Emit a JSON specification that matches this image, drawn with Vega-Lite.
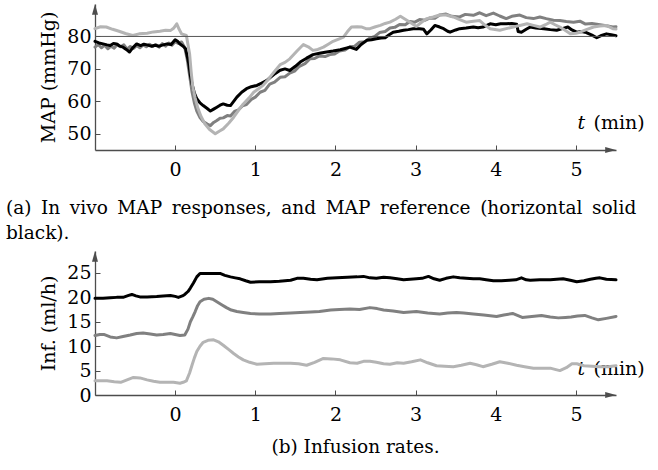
{
  "$schema": "https://vega.github.io/schema/vega-lite/v6.json",
  "padding": {"left": 6, "top": 4, "right": 0, "bottom": 0},
  "spacing": 8,
  "config": {
    "view": {"stroke": null},
    "font": "DejaVu Serif",
    "axis": {
      "grid": false,
      "domain": true,
      "domainColor": "#4d4d4d",
      "domainWidth": 1.3,
      "tickColor": "#4d4d4d",
      "tickWidth": 1,
      "tickSize": -5,
      "labelOverlap": false,
      "labelFont": "DejaVu Serif",
      "labelFontSize": 19,
      "labelColor": "#000",
      "titleFont": "DejaVu Serif",
      "titleFontSize": 19,
      "titleFontWeight": "normal",
      "titleColor": "#000"
    }
  },
  "datasets": {
    "map": [
      {"t": -1.0, "v": 76.7, "s": "s1"}, {"t": -0.96, "v": 77.5, "s": "s1"}, {"t": -0.92, "v": 76.5, "s": "s1"}, {"t": -0.88, "v": 77.3, "s": "s1"}, {"t": -0.84, "v": 76.2, "s": "s1"}, {"t": -0.8, "v": 77.0, "s": "s1"}, {"t": -0.76, "v": 76.4, "s": "s1"}, {"t": -0.72, "v": 77.6, "s": "s1"}, {"t": -0.68, "v": 76.8, "s": "s1"}, {"t": -0.64, "v": 77.4, "s": "s1"}, {"t": -0.6, "v": 76.1, "s": "s1"}, {"t": -0.56, "v": 76.9, "s": "s1"}, {"t": -0.52, "v": 76.3, "s": "s1"}, {"t": -0.48, "v": 77.2, "s": "s1"}, {"t": -0.44, "v": 76.5, "s": "s1"}, {"t": -0.4, "v": 77.4, "s": "s1"}, {"t": -0.36, "v": 76.8, "s": "s1"}, {"t": -0.32, "v": 77.6, "s": "s1"}, {"t": -0.28, "v": 76.9, "s": "s1"}, {"t": -0.24, "v": 77.5, "s": "s1"}, {"t": -0.2, "v": 76.7, "s": "s1"}, {"t": -0.16, "v": 77.8, "s": "s1"}, {"t": -0.12, "v": 77.0, "s": "s1"}, {"t": -0.08, "v": 78.0, "s": "s1"}, {"t": -0.04, "v": 77.3, "s": "s1"}, {"t": 0.0, "v": 78.4, "s": "s1"}, {"t": 0.04, "v": 77.8, "s": "s1"}, {"t": 0.08, "v": 78.3, "s": "s1"}, {"t": 0.12, "v": 76.5, "s": "s1"}, {"t": 0.15, "v": 73.0, "s": "s1"}, {"t": 0.18, "v": 68.0, "s": "s1"}, {"t": 0.21, "v": 63.0, "s": "s1"}, {"t": 0.24, "v": 59.5, "s": "s1"}, {"t": 0.27, "v": 57.0, "s": "s1"}, {"t": 0.31, "v": 55.0, "s": "s1"}, {"t": 0.35, "v": 53.8, "s": "s1"}, {"t": 0.4, "v": 53.0, "s": "s1"}, {"t": 0.44, "v": 52.5, "s": "s1"}, {"t": 0.48, "v": 53.5, "s": "s1"}, {"t": 0.52, "v": 54.1, "s": "s1"}, {"t": 0.56, "v": 54.8, "s": "s1"}, {"t": 0.6, "v": 54.9, "s": "s1"}, {"t": 0.65, "v": 55.6, "s": "s1"}, {"t": 0.69, "v": 55.5, "s": "s1"}, {"t": 0.74, "v": 56.9, "s": "s1"}, {"t": 0.79, "v": 57.4, "s": "s1"}, {"t": 0.84, "v": 58.6, "s": "s1"}, {"t": 0.89, "v": 59.0, "s": "s1"}, {"t": 0.95, "v": 60.6, "s": "s1"}, {"t": 1.0, "v": 61.3, "s": "s1"}, {"t": 1.06, "v": 62.8, "s": "s1"}, {"t": 1.12, "v": 63.4, "s": "s1"}, {"t": 1.18, "v": 65.3, "s": "s1"}, {"t": 1.24, "v": 65.9, "s": "s1"}, {"t": 1.31, "v": 67.4, "s": "s1"}, {"t": 1.37, "v": 67.6, "s": "s1"}, {"t": 1.43, "v": 68.7, "s": "s1"}, {"t": 1.49, "v": 69.3, "s": "s1"}, {"t": 1.55, "v": 70.8, "s": "s1"}, {"t": 1.62, "v": 71.6, "s": "s1"}, {"t": 1.68, "v": 73.1, "s": "s1"}, {"t": 1.74, "v": 73.2, "s": "s1"}, {"t": 1.8, "v": 74.0, "s": "s1"}, {"t": 1.87, "v": 73.8, "s": "s1"}, {"t": 1.93, "v": 74.4, "s": "s1"}, {"t": 1.99, "v": 74.6, "s": "s1"}, {"t": 2.05, "v": 75.5, "s": "s1"}, {"t": 2.12, "v": 75.8, "s": "s1"}, {"t": 2.18, "v": 76.8, "s": "s1"}, {"t": 2.24, "v": 77.0, "s": "s1"}, {"t": 2.3, "v": 78.2, "s": "s1"}, {"t": 2.37, "v": 78.4, "s": "s1"}, {"t": 2.43, "v": 79.5, "s": "s1"}, {"t": 2.49, "v": 80.0, "s": "s1"}, {"t": 2.55, "v": 81.2, "s": "s1"}, {"t": 2.62, "v": 81.5, "s": "s1"}, {"t": 2.68, "v": 82.6, "s": "s1"}, {"t": 2.74, "v": 82.8, "s": "s1"}, {"t": 2.8, "v": 83.7, "s": "s1"}, {"t": 2.87, "v": 83.6, "s": "s1"}, {"t": 2.93, "v": 84.6, "s": "s1"}, {"t": 2.99, "v": 84.4, "s": "s1"}, {"t": 3.05, "v": 85.2, "s": "s1"}, {"t": 3.12, "v": 85.0, "s": "s1"}, {"t": 3.18, "v": 85.7, "s": "s1"}, {"t": 3.24, "v": 85.6, "s": "s1"}, {"t": 3.3, "v": 86.6, "s": "s1"}, {"t": 3.38, "v": 86.9, "s": "s1"}, {"t": 3.45, "v": 86.2, "s": "s1"}, {"t": 3.55, "v": 86.0, "s": "s1"}, {"t": 3.62, "v": 86.8, "s": "s1"}, {"t": 3.72, "v": 86.5, "s": "s1"}, {"t": 3.8, "v": 87.3, "s": "s1"}, {"t": 3.88, "v": 86.4, "s": "s1"}, {"t": 3.97, "v": 87.2, "s": "s1"}, {"t": 4.05, "v": 86.3, "s": "s1"}, {"t": 4.13, "v": 85.5, "s": "s1"}, {"t": 4.2, "v": 86.2, "s": "s1"}, {"t": 4.3, "v": 86.6, "s": "s1"}, {"t": 4.38, "v": 85.8, "s": "s1"}, {"t": 4.47, "v": 85.5, "s": "s1"}, {"t": 4.55, "v": 86.0, "s": "s1"}, {"t": 4.63, "v": 85.5, "s": "s1"}, {"t": 4.72, "v": 85.0, "s": "s1"}, {"t": 4.8, "v": 84.9, "s": "s1"}, {"t": 4.88, "v": 84.6, "s": "s1"}, {"t": 4.97, "v": 84.4, "s": "s1"}, {"t": 5.05, "v": 84.7, "s": "s1"}, {"t": 5.12, "v": 83.8, "s": "s1"}, {"t": 5.2, "v": 84.0, "s": "s1"}, {"t": 5.3, "v": 83.6, "s": "s1"}, {"t": 5.38, "v": 83.3, "s": "s1"}, {"t": 5.46, "v": 82.9, "s": "s1"}, {"t": 5.5, "v": 83.0, "s": "s1"},

      {"t": -1.0, "v": 78.5, "s": "s2"}, {"t": -0.95, "v": 78.0, "s": "s2"}, {"t": -0.9, "v": 77.7, "s": "s2"}, {"t": -0.85, "v": 77.4, "s": "s2"}, {"t": -0.81, "v": 77.2, "s": "s2"}, {"t": -0.77, "v": 77.8, "s": "s2"}, {"t": -0.73, "v": 77.7, "s": "s2"}, {"t": -0.69, "v": 77.0, "s": "s2"}, {"t": -0.65, "v": 76.7, "s": "s2"}, {"t": -0.61, "v": 76.0, "s": "s2"}, {"t": -0.57, "v": 75.2, "s": "s2"}, {"t": -0.53, "v": 76.5, "s": "s2"}, {"t": -0.48, "v": 77.7, "s": "s2"}, {"t": -0.43, "v": 77.2, "s": "s2"}, {"t": -0.39, "v": 77.6, "s": "s2"}, {"t": -0.35, "v": 77.4, "s": "s2"}, {"t": -0.3, "v": 77.0, "s": "s2"}, {"t": -0.25, "v": 77.3, "s": "s2"}, {"t": -0.2, "v": 77.0, "s": "s2"}, {"t": -0.15, "v": 77.4, "s": "s2"}, {"t": -0.1, "v": 77.7, "s": "s2"}, {"t": -0.05, "v": 77.5, "s": "s2"}, {"t": 0.0, "v": 79.0, "s": "s2"}, {"t": 0.03, "v": 78.5, "s": "s2"}, {"t": 0.06, "v": 77.7, "s": "s2"}, {"t": 0.1, "v": 77.0, "s": "s2"}, {"t": 0.13, "v": 76.2, "s": "s2"}, {"t": 0.15, "v": 74.0, "s": "s2"}, {"t": 0.17, "v": 71.6, "s": "s2"}, {"t": 0.19, "v": 68.0, "s": "s2"}, {"t": 0.21, "v": 65.4, "s": "s2"}, {"t": 0.24, "v": 62.5, "s": "s2"}, {"t": 0.27, "v": 60.8, "s": "s2"}, {"t": 0.31, "v": 59.5, "s": "s2"}, {"t": 0.35, "v": 58.7, "s": "s2"}, {"t": 0.4, "v": 57.8, "s": "s2"}, {"t": 0.44, "v": 57.0, "s": "s2"}, {"t": 0.48, "v": 57.6, "s": "s2"}, {"t": 0.52, "v": 58.2, "s": "s2"}, {"t": 0.56, "v": 58.8, "s": "s2"}, {"t": 0.6, "v": 59.2, "s": "s2"}, {"t": 0.65, "v": 58.8, "s": "s2"}, {"t": 0.69, "v": 58.7, "s": "s2"}, {"t": 0.73, "v": 60.0, "s": "s2"}, {"t": 0.77, "v": 61.3, "s": "s2"}, {"t": 0.83, "v": 62.8, "s": "s2"}, {"t": 0.89, "v": 63.9, "s": "s2"}, {"t": 0.95, "v": 64.5, "s": "s2"}, {"t": 1.02, "v": 64.9, "s": "s2"}, {"t": 1.08, "v": 65.6, "s": "s2"}, {"t": 1.14, "v": 66.4, "s": "s2"}, {"t": 1.2, "v": 67.6, "s": "s2"}, {"t": 1.25, "v": 68.6, "s": "s2"}, {"t": 1.31, "v": 69.6, "s": "s2"}, {"t": 1.37, "v": 70.0, "s": "s2"}, {"t": 1.43, "v": 69.5, "s": "s2"}, {"t": 1.5, "v": 70.8, "s": "s2"}, {"t": 1.56, "v": 72.1, "s": "s2"}, {"t": 1.64, "v": 73.3, "s": "s2"}, {"t": 1.72, "v": 74.4, "s": "s2"}, {"t": 1.8, "v": 74.8, "s": "s2"}, {"t": 1.89, "v": 75.2, "s": "s2"}, {"t": 1.97, "v": 75.5, "s": "s2"}, {"t": 2.06, "v": 75.9, "s": "s2"}, {"t": 2.12, "v": 76.3, "s": "s2"}, {"t": 2.18, "v": 76.7, "s": "s2"}, {"t": 2.26, "v": 76.0, "s": "s2"}, {"t": 2.32, "v": 77.5, "s": "s2"}, {"t": 2.39, "v": 78.8, "s": "s2"}, {"t": 2.45, "v": 79.0, "s": "s2"}, {"t": 2.51, "v": 79.3, "s": "s2"}, {"t": 2.57, "v": 79.5, "s": "s2"}, {"t": 2.62, "v": 79.6, "s": "s2"}, {"t": 2.67, "v": 80.5, "s": "s2"}, {"t": 2.72, "v": 81.3, "s": "s2"}, {"t": 2.79, "v": 81.6, "s": "s2"}, {"t": 2.85, "v": 81.9, "s": "s2"}, {"t": 2.91, "v": 82.1, "s": "s2"}, {"t": 2.97, "v": 82.4, "s": "s2"}, {"t": 3.05, "v": 82.4, "s": "s2"}, {"t": 3.1, "v": 82.2, "s": "s2"}, {"t": 3.14, "v": 80.8, "s": "s2"}, {"t": 3.19, "v": 82.0, "s": "s2"}, {"t": 3.24, "v": 83.4, "s": "s2"}, {"t": 3.3, "v": 82.9, "s": "s2"}, {"t": 3.35, "v": 82.4, "s": "s2"}, {"t": 3.4, "v": 81.6, "s": "s2"}, {"t": 3.43, "v": 81.3, "s": "s2"}, {"t": 3.5, "v": 82.0, "s": "s2"}, {"t": 3.55, "v": 82.4, "s": "s2"}, {"t": 3.63, "v": 82.6, "s": "s2"}, {"t": 3.72, "v": 82.9, "s": "s2"}, {"t": 3.78, "v": 82.7, "s": "s2"}, {"t": 3.84, "v": 82.9, "s": "s2"}, {"t": 3.93, "v": 83.9, "s": "s2"}, {"t": 4.0, "v": 83.6, "s": "s2"}, {"t": 4.06, "v": 83.9, "s": "s2"}, {"t": 4.13, "v": 83.9, "s": "s2"}, {"t": 4.2, "v": 84.0, "s": "s2"}, {"t": 4.26, "v": 83.8, "s": "s2"}, {"t": 4.28, "v": 81.5, "s": "s2"}, {"t": 4.32, "v": 81.3, "s": "s2"}, {"t": 4.38, "v": 82.2, "s": "s2"}, {"t": 4.43, "v": 82.9, "s": "s2"}, {"t": 4.5, "v": 82.6, "s": "s2"}, {"t": 4.6, "v": 82.4, "s": "s2"}, {"t": 4.68, "v": 82.1, "s": "s2"}, {"t": 4.76, "v": 81.9, "s": "s2"}, {"t": 4.83, "v": 82.4, "s": "s2"}, {"t": 4.9, "v": 82.9, "s": "s2"}, {"t": 4.95, "v": 82.0, "s": "s2"}, {"t": 5.01, "v": 81.3, "s": "s2"}, {"t": 5.07, "v": 81.5, "s": "s2"}, {"t": 5.13, "v": 81.2, "s": "s2"}, {"t": 5.2, "v": 80.4, "s": "s2"}, {"t": 5.26, "v": 79.6, "s": "s2"}, {"t": 5.32, "v": 80.3, "s": "s2"}, {"t": 5.38, "v": 80.8, "s": "s2"}, {"t": 5.44, "v": 80.5, "s": "s2"}, {"t": 5.5, "v": 80.2, "s": "s2"},

      {"t": -1.0, "v": 82.4, "s": "s3"}, {"t": -0.93, "v": 83.0, "s": "s3"}, {"t": -0.86, "v": 82.9, "s": "s3"}, {"t": -0.78, "v": 82.2, "s": "s3"}, {"t": -0.7, "v": 81.6, "s": "s3"}, {"t": -0.62, "v": 80.9, "s": "s3"}, {"t": -0.53, "v": 80.3, "s": "s3"}, {"t": -0.45, "v": 80.8, "s": "s3"}, {"t": -0.35, "v": 81.0, "s": "s3"}, {"t": -0.27, "v": 81.4, "s": "s3"}, {"t": -0.19, "v": 81.6, "s": "s3"}, {"t": -0.12, "v": 81.9, "s": "s3"}, {"t": -0.06, "v": 81.8, "s": "s3"}, {"t": -0.02, "v": 82.5, "s": "s3"}, {"t": 0.02, "v": 83.9, "s": "s3"}, {"t": 0.05, "v": 82.2, "s": "s3"}, {"t": 0.08, "v": 80.8, "s": "s3"}, {"t": 0.14, "v": 80.3, "s": "s3"}, {"t": 0.18, "v": 74.7, "s": "s3"}, {"t": 0.2, "v": 69.0, "s": "s3"}, {"t": 0.22, "v": 64.4, "s": "s3"}, {"t": 0.25, "v": 61.0, "s": "s3"}, {"t": 0.28, "v": 58.2, "s": "s3"}, {"t": 0.32, "v": 55.5, "s": "s3"}, {"t": 0.37, "v": 53.1, "s": "s3"}, {"t": 0.43, "v": 51.3, "s": "s3"}, {"t": 0.5, "v": 50.0, "s": "s3"}, {"t": 0.55, "v": 50.8, "s": "s3"}, {"t": 0.6, "v": 51.5, "s": "s3"}, {"t": 0.67, "v": 53.3, "s": "s3"}, {"t": 0.73, "v": 55.1, "s": "s3"}, {"t": 0.79, "v": 57.2, "s": "s3"}, {"t": 0.85, "v": 59.2, "s": "s3"}, {"t": 0.92, "v": 61.0, "s": "s3"}, {"t": 0.98, "v": 62.8, "s": "s3"}, {"t": 1.04, "v": 63.9, "s": "s3"}, {"t": 1.1, "v": 65.0, "s": "s3"}, {"t": 1.15, "v": 66.4, "s": "s3"}, {"t": 1.2, "v": 68.0, "s": "s3"}, {"t": 1.25, "v": 69.5, "s": "s3"}, {"t": 1.31, "v": 71.3, "s": "s3"}, {"t": 1.37, "v": 72.0, "s": "s3"}, {"t": 1.43, "v": 73.1, "s": "s3"}, {"t": 1.52, "v": 75.5, "s": "s3"}, {"t": 1.6, "v": 77.5, "s": "s3"}, {"t": 1.66, "v": 76.8, "s": "s3"}, {"t": 1.72, "v": 75.7, "s": "s3"}, {"t": 1.78, "v": 76.0, "s": "s3"}, {"t": 1.85, "v": 76.7, "s": "s3"}, {"t": 1.91, "v": 77.6, "s": "s3"}, {"t": 1.97, "v": 78.5, "s": "s3"}, {"t": 2.04, "v": 79.2, "s": "s3"}, {"t": 2.1, "v": 79.8, "s": "s3"}, {"t": 2.15, "v": 81.5, "s": "s3"}, {"t": 2.2, "v": 82.9, "s": "s3"}, {"t": 2.27, "v": 83.0, "s": "s3"}, {"t": 2.33, "v": 82.9, "s": "s3"}, {"t": 2.38, "v": 82.4, "s": "s3"}, {"t": 2.43, "v": 82.4, "s": "s3"}, {"t": 2.5, "v": 83.0, "s": "s3"}, {"t": 2.56, "v": 83.4, "s": "s3"}, {"t": 2.62, "v": 84.0, "s": "s3"}, {"t": 2.68, "v": 84.4, "s": "s3"}, {"t": 2.75, "v": 85.3, "s": "s3"}, {"t": 2.81, "v": 86.2, "s": "s3"}, {"t": 2.87, "v": 85.3, "s": "s3"}, {"t": 2.93, "v": 84.4, "s": "s3"}, {"t": 3.01, "v": 83.1, "s": "s3"}, {"t": 3.07, "v": 84.3, "s": "s3"}, {"t": 3.14, "v": 85.5, "s": "s3"}, {"t": 3.22, "v": 86.0, "s": "s3"}, {"t": 3.3, "v": 86.6, "s": "s3"}, {"t": 3.38, "v": 86.6, "s": "s3"}, {"t": 3.47, "v": 86.0, "s": "s3"}, {"t": 3.55, "v": 85.2, "s": "s3"}, {"t": 3.63, "v": 84.4, "s": "s3"}, {"t": 3.72, "v": 84.7, "s": "s3"}, {"t": 3.8, "v": 84.9, "s": "s3"}, {"t": 3.86, "v": 83.6, "s": "s3"}, {"t": 3.93, "v": 82.4, "s": "s3"}, {"t": 4.05, "v": 81.9, "s": "s3"}, {"t": 4.13, "v": 82.4, "s": "s3"}, {"t": 4.22, "v": 82.9, "s": "s3"}, {"t": 4.3, "v": 83.4, "s": "s3"}, {"t": 4.39, "v": 83.9, "s": "s3"}, {"t": 4.47, "v": 83.4, "s": "s3"}, {"t": 4.55, "v": 82.9, "s": "s3"}, {"t": 4.62, "v": 83.6, "s": "s3"}, {"t": 4.68, "v": 84.4, "s": "s3"}, {"t": 4.74, "v": 83.6, "s": "s3"}, {"t": 4.8, "v": 82.9, "s": "s3"}, {"t": 4.87, "v": 81.8, "s": "s3"}, {"t": 4.93, "v": 80.8, "s": "s3"}, {"t": 5.0, "v": 81.0, "s": "s3"}, {"t": 5.05, "v": 81.3, "s": "s3"}, {"t": 5.13, "v": 82.1, "s": "s3"}, {"t": 5.22, "v": 82.9, "s": "s3"}, {"t": 5.3, "v": 83.2, "s": "s3"}, {"t": 5.38, "v": 83.4, "s": "s3"}, {"t": 5.46, "v": 82.4, "s": "s3"}, {"t": 5.5, "v": 82.3, "s": "s3"}
    ],
    "inf": [
      {"t": -1.0, "v": 12.2, "s": "s1"}, {"t": -0.94, "v": 12.4, "s": "s1"}, {"t": -0.89, "v": 12.4, "s": "s1"}, {"t": -0.81, "v": 11.9, "s": "s1"}, {"t": -0.73, "v": 11.7, "s": "s1"}, {"t": -0.65, "v": 12.0, "s": "s1"}, {"t": -0.56, "v": 12.3, "s": "s1"}, {"t": -0.48, "v": 12.6, "s": "s1"}, {"t": -0.4, "v": 12.7, "s": "s1"}, {"t": -0.31, "v": 12.5, "s": "s1"}, {"t": -0.23, "v": 12.3, "s": "s1"}, {"t": -0.15, "v": 12.4, "s": "s1"}, {"t": -0.06, "v": 12.6, "s": "s1"}, {"t": 0.0, "v": 12.4, "s": "s1"}, {"t": 0.06, "v": 12.2, "s": "s1"}, {"t": 0.12, "v": 12.3, "s": "s1"}, {"t": 0.16, "v": 13.5, "s": "s1"}, {"t": 0.19, "v": 15.0, "s": "s1"}, {"t": 0.22, "v": 16.0, "s": "s1"}, {"t": 0.25, "v": 17.1, "s": "s1"}, {"t": 0.28, "v": 18.3, "s": "s1"}, {"t": 0.31, "v": 19.1, "s": "s1"}, {"t": 0.36, "v": 19.6, "s": "s1"}, {"t": 0.42, "v": 19.8, "s": "s1"}, {"t": 0.47, "v": 19.6, "s": "s1"}, {"t": 0.52, "v": 19.1, "s": "s1"}, {"t": 0.58, "v": 18.5, "s": "s1"}, {"t": 0.64, "v": 17.9, "s": "s1"}, {"t": 0.7, "v": 17.4, "s": "s1"}, {"t": 0.77, "v": 17.1, "s": "s1"}, {"t": 0.85, "v": 16.9, "s": "s1"}, {"t": 0.94, "v": 16.7, "s": "s1"}, {"t": 1.05, "v": 16.6, "s": "s1"}, {"t": 1.19, "v": 16.6, "s": "s1"}, {"t": 1.3, "v": 16.7, "s": "s1"}, {"t": 1.44, "v": 16.8, "s": "s1"}, {"t": 1.56, "v": 16.9, "s": "s1"}, {"t": 1.69, "v": 17.0, "s": "s1"}, {"t": 1.8, "v": 17.1, "s": "s1"}, {"t": 1.94, "v": 17.4, "s": "s1"}, {"t": 2.05, "v": 17.5, "s": "s1"}, {"t": 2.18, "v": 17.6, "s": "s1"}, {"t": 2.3, "v": 17.5, "s": "s1"}, {"t": 2.43, "v": 17.9, "s": "s1"}, {"t": 2.52, "v": 17.7, "s": "s1"}, {"t": 2.6, "v": 17.4, "s": "s1"}, {"t": 2.72, "v": 17.2, "s": "s1"}, {"t": 2.85, "v": 16.9, "s": "s1"}, {"t": 2.93, "v": 17.0, "s": "s1"}, {"t": 3.01, "v": 17.1, "s": "s1"}, {"t": 3.15, "v": 16.8, "s": "s1"}, {"t": 3.3, "v": 16.6, "s": "s1"}, {"t": 3.4, "v": 16.8, "s": "s1"}, {"t": 3.51, "v": 16.9, "s": "s1"}, {"t": 3.6, "v": 16.8, "s": "s1"}, {"t": 3.72, "v": 16.6, "s": "s1"}, {"t": 3.85, "v": 16.4, "s": "s1"}, {"t": 4.01, "v": 16.1, "s": "s1"}, {"t": 4.1, "v": 16.4, "s": "s1"}, {"t": 4.21, "v": 16.7, "s": "s1"}, {"t": 4.27, "v": 16.3, "s": "s1"}, {"t": 4.33, "v": 15.9, "s": "s1"}, {"t": 4.45, "v": 16.1, "s": "s1"}, {"t": 4.57, "v": 16.3, "s": "s1"}, {"t": 4.68, "v": 16.0, "s": "s1"}, {"t": 4.78, "v": 15.8, "s": "s1"}, {"t": 4.87, "v": 15.9, "s": "s1"}, {"t": 4.94, "v": 16.0, "s": "s1"}, {"t": 5.02, "v": 16.2, "s": "s1"}, {"t": 5.11, "v": 16.3, "s": "s1"}, {"t": 5.2, "v": 15.8, "s": "s1"}, {"t": 5.28, "v": 15.4, "s": "s1"}, {"t": 5.38, "v": 15.7, "s": "s1"}, {"t": 5.5, "v": 16.1, "s": "s1"},

      {"t": -1.0, "v": 19.8, "s": "s2"}, {"t": -0.9, "v": 19.8, "s": "s2"}, {"t": -0.81, "v": 19.9, "s": "s2"}, {"t": -0.73, "v": 20.0, "s": "s2"}, {"t": -0.65, "v": 20.0, "s": "s2"}, {"t": -0.58, "v": 20.4, "s": "s2"}, {"t": -0.54, "v": 20.6, "s": "s2"}, {"t": -0.49, "v": 20.3, "s": "s2"}, {"t": -0.44, "v": 20.1, "s": "s2"}, {"t": -0.35, "v": 20.1, "s": "s2"}, {"t": -0.23, "v": 20.2, "s": "s2"}, {"t": -0.15, "v": 20.3, "s": "s2"}, {"t": -0.06, "v": 20.4, "s": "s2"}, {"t": 0.0, "v": 20.2, "s": "s2"}, {"t": 0.04, "v": 20.0, "s": "s2"}, {"t": 0.09, "v": 20.3, "s": "s2"}, {"t": 0.12, "v": 20.6, "s": "s2"}, {"t": 0.16, "v": 21.2, "s": "s2"}, {"t": 0.19, "v": 21.9, "s": "s2"}, {"t": 0.23, "v": 23.0, "s": "s2"}, {"t": 0.27, "v": 24.2, "s": "s2"}, {"t": 0.31, "v": 24.9, "s": "s2"}, {"t": 0.4, "v": 24.9, "s": "s2"}, {"t": 0.5, "v": 24.9, "s": "s2"}, {"t": 0.56, "v": 24.9, "s": "s2"}, {"t": 0.62, "v": 24.5, "s": "s2"}, {"t": 0.69, "v": 24.2, "s": "s2"}, {"t": 0.75, "v": 24.0, "s": "s2"}, {"t": 0.81, "v": 23.8, "s": "s2"}, {"t": 0.88, "v": 23.4, "s": "s2"}, {"t": 0.94, "v": 23.1, "s": "s2"}, {"t": 1.05, "v": 23.2, "s": "s2"}, {"t": 1.19, "v": 23.2, "s": "s2"}, {"t": 1.3, "v": 23.3, "s": "s2"}, {"t": 1.44, "v": 23.5, "s": "s2"}, {"t": 1.52, "v": 23.9, "s": "s2"}, {"t": 1.6, "v": 23.9, "s": "s2"}, {"t": 1.69, "v": 23.7, "s": "s2"}, {"t": 1.77, "v": 23.6, "s": "s2"}, {"t": 1.9, "v": 23.9, "s": "s2"}, {"t": 2.02, "v": 24.0, "s": "s2"}, {"t": 2.15, "v": 24.1, "s": "s2"}, {"t": 2.27, "v": 24.2, "s": "s2"}, {"t": 2.35, "v": 24.3, "s": "s2"}, {"t": 2.43, "v": 24.0, "s": "s2"}, {"t": 2.51, "v": 23.9, "s": "s2"}, {"t": 2.6, "v": 24.1, "s": "s2"}, {"t": 2.68, "v": 24.0, "s": "s2"}, {"t": 2.77, "v": 23.8, "s": "s2"}, {"t": 2.85, "v": 23.6, "s": "s2"}, {"t": 2.93, "v": 23.7, "s": "s2"}, {"t": 3.01, "v": 23.8, "s": "s2"}, {"t": 3.08, "v": 23.9, "s": "s2"}, {"t": 3.16, "v": 24.3, "s": "s2"}, {"t": 3.23, "v": 23.8, "s": "s2"}, {"t": 3.3, "v": 23.5, "s": "s2"}, {"t": 3.38, "v": 23.9, "s": "s2"}, {"t": 3.47, "v": 24.2, "s": "s2"}, {"t": 3.55, "v": 24.0, "s": "s2"}, {"t": 3.63, "v": 23.9, "s": "s2"}, {"t": 3.72, "v": 23.8, "s": "s2"}, {"t": 3.8, "v": 23.8, "s": "s2"}, {"t": 3.88, "v": 23.6, "s": "s2"}, {"t": 3.97, "v": 23.4, "s": "s2"}, {"t": 4.07, "v": 23.4, "s": "s2"}, {"t": 4.17, "v": 23.5, "s": "s2"}, {"t": 4.25, "v": 23.6, "s": "s2"}, {"t": 4.32, "v": 24.0, "s": "s2"}, {"t": 4.38, "v": 23.6, "s": "s2"}, {"t": 4.43, "v": 23.5, "s": "s2"}, {"t": 4.55, "v": 23.6, "s": "s2"}, {"t": 4.68, "v": 23.6, "s": "s2"}, {"t": 4.76, "v": 23.7, "s": "s2"}, {"t": 4.84, "v": 23.8, "s": "s2"}, {"t": 4.93, "v": 23.5, "s": "s2"}, {"t": 5.01, "v": 23.2, "s": "s2"}, {"t": 5.1, "v": 23.4, "s": "s2"}, {"t": 5.18, "v": 23.7, "s": "s2"}, {"t": 5.25, "v": 23.9, "s": "s2"}, {"t": 5.3, "v": 24.0, "s": "s2"}, {"t": 5.38, "v": 23.7, "s": "s2"}, {"t": 5.5, "v": 23.6, "s": "s2"},

      {"t": -1.0, "v": 2.9, "s": "s3"}, {"t": -0.93, "v": 2.9, "s": "s3"}, {"t": -0.85, "v": 2.9, "s": "s3"}, {"t": -0.76, "v": 2.7, "s": "s3"}, {"t": -0.68, "v": 2.6, "s": "s3"}, {"t": -0.6, "v": 3.1, "s": "s3"}, {"t": -0.52, "v": 3.6, "s": "s3"}, {"t": -0.44, "v": 3.5, "s": "s3"}, {"t": -0.35, "v": 3.1, "s": "s3"}, {"t": -0.27, "v": 2.8, "s": "s3"}, {"t": -0.19, "v": 2.6, "s": "s3"}, {"t": -0.1, "v": 2.6, "s": "s3"}, {"t": -0.02, "v": 2.6, "s": "s3"}, {"t": 0.06, "v": 2.4, "s": "s3"}, {"t": 0.1, "v": 2.6, "s": "s3"}, {"t": 0.14, "v": 2.9, "s": "s3"}, {"t": 0.18, "v": 4.5, "s": "s3"}, {"t": 0.21, "v": 6.1, "s": "s3"}, {"t": 0.24, "v": 7.6, "s": "s3"}, {"t": 0.27, "v": 8.9, "s": "s3"}, {"t": 0.31, "v": 10.0, "s": "s3"}, {"t": 0.35, "v": 10.8, "s": "s3"}, {"t": 0.41, "v": 11.2, "s": "s3"}, {"t": 0.48, "v": 11.3, "s": "s3"}, {"t": 0.54, "v": 10.9, "s": "s3"}, {"t": 0.6, "v": 10.2, "s": "s3"}, {"t": 0.67, "v": 9.3, "s": "s3"}, {"t": 0.73, "v": 8.5, "s": "s3"}, {"t": 0.79, "v": 7.8, "s": "s3"}, {"t": 0.85, "v": 7.2, "s": "s3"}, {"t": 0.93, "v": 6.7, "s": "s3"}, {"t": 1.02, "v": 6.3, "s": "s3"}, {"t": 1.12, "v": 6.4, "s": "s3"}, {"t": 1.23, "v": 6.5, "s": "s3"}, {"t": 1.33, "v": 6.5, "s": "s3"}, {"t": 1.44, "v": 6.5, "s": "s3"}, {"t": 1.54, "v": 6.4, "s": "s3"}, {"t": 1.64, "v": 6.1, "s": "s3"}, {"t": 1.74, "v": 6.7, "s": "s3"}, {"t": 1.85, "v": 7.5, "s": "s3"}, {"t": 1.95, "v": 7.4, "s": "s3"}, {"t": 2.06, "v": 7.2, "s": "s3"}, {"t": 2.18, "v": 6.6, "s": "s3"}, {"t": 2.27, "v": 6.5, "s": "s3"}, {"t": 2.35, "v": 6.9, "s": "s3"}, {"t": 2.43, "v": 6.9, "s": "s3"}, {"t": 2.51, "v": 6.7, "s": "s3"}, {"t": 2.6, "v": 6.4, "s": "s3"}, {"t": 2.68, "v": 6.3, "s": "s3"}, {"t": 2.77, "v": 6.6, "s": "s3"}, {"t": 2.85, "v": 6.5, "s": "s3"}, {"t": 2.95, "v": 6.8, "s": "s3"}, {"t": 3.06, "v": 7.2, "s": "s3"}, {"t": 3.15, "v": 6.6, "s": "s3"}, {"t": 3.26, "v": 6.0, "s": "s3"}, {"t": 3.36, "v": 5.9, "s": "s3"}, {"t": 3.47, "v": 5.8, "s": "s3"}, {"t": 3.57, "v": 6.1, "s": "s3"}, {"t": 3.68, "v": 6.5, "s": "s3"}, {"t": 3.76, "v": 6.2, "s": "s3"}, {"t": 3.84, "v": 5.8, "s": "s3"}, {"t": 3.95, "v": 6.3, "s": "s3"}, {"t": 4.05, "v": 6.8, "s": "s3"}, {"t": 4.15, "v": 6.5, "s": "s3"}, {"t": 4.26, "v": 6.1, "s": "s3"}, {"t": 4.36, "v": 5.8, "s": "s3"}, {"t": 4.47, "v": 5.5, "s": "s3"}, {"t": 4.58, "v": 5.5, "s": "s3"}, {"t": 4.68, "v": 5.5, "s": "s3"}, {"t": 4.75, "v": 5.2, "s": "s3"}, {"t": 4.8, "v": 5.0, "s": "s3"}, {"t": 4.88, "v": 5.6, "s": "s3"}, {"t": 4.95, "v": 6.4, "s": "s3"}, {"t": 5.01, "v": 6.4, "s": "s3"}, {"t": 5.1, "v": 6.0, "s": "s3"}, {"t": 5.2, "v": 5.9, "s": "s3"}, {"t": 5.3, "v": 5.8, "s": "s3"}, {"t": 5.4, "v": 5.8, "s": "s3"}, {"t": 5.5, "v": 6.0, "s": "s3"}
    ]
  },
  "vconcat": [
    {
      "width": 521,
      "height": 146,
      "title": {
        "text": ["(a) \u2009In \u2009vivo \u2009MAP \u2009responses, \u2009and \u2009MAP \u2009reference \u2009(horizontal \u2009solid", "black)."],
        "orient": "bottom",
        "anchor": "start",
        "frame": "group",
        "dx": -89,
        "offset": 20,
        "font": "DejaVu Serif",
        "fontSize": 18.5,
        "fontWeight": "normal",
        "color": "#000",
        "lineHeight": 25
      },
      "resolve": {"axis": {"x": "independent"}},
      "layer": [
        {
          "data": {"name": "map"},
          "mark": {"type": "line", "strokeWidth": 3, "strokeJoin": "round", "strokeCap": "round"},
          "encoding": {
            "x": {"field": "t", "type": "quantitative",
                  "scale": {"domain": [-1, 5.5], "nice": false, "zero": false},
                  "axis": {"orient": "bottom", "values": [0, 1, 2, 3, 4, 5], "labelPadding": 15, "labelFlush": false, "labelOverlap": false,
                           "title": "(min)", "titleAlign": "left", "titleAnchor": null, "titleX": 498, "titleY": -22, "titleBaseline": "alphabetic"}},
            "y": {"field": "v", "type": "quantitative",
                  "scale": {"domain": [45, 90], "nice": false, "zero": false},
                  "axis": {"values": [50, 60, 70, 80], "labelPadding": 9, "labelFlush": false, "labelOverlap": false, "title": "MAP (mmHg)", "titlePadding": 8}},
            "color": {"field": "s", "type": "nominal",
                      "scale": {"domain": ["s1", "s2", "s3"], "range": ["#808080", "#000000", "#b4b4b4"]},
                      "legend": null}
          }
        },
        {
          "data": {"values": [{}]},
          "mark": {"type": "rule", "color": "#555555", "strokeWidth": 1},
          "encoding": {"x": {"datum": -1, "axis": null}, "x2": {"datum": 5.5}, "y": {"datum": 80, "axis": {"values": [50, 60, 70, 80], "labelPadding": 9, "labelFlush": false, "labelOverlap": false, "title": "MAP (mmHg)", "titlePadding": 8}}}
        },
        {
          "data": {"values": [{}]},
          "mark": {"type": "point", "shape": "M0,0L-1.8,-0.5L-1.8,0.5Z", "filled": true, "size": 144, "color": "#4d4d4d", "opacity": 1, "strokeWidth": 0},
          "encoding": {"x": {"datum": 5.5, "axis": null}, "y": {"datum": 45, "axis": {"values": [50, 60, 70, 80], "labelPadding": 9, "labelFlush": false, "labelOverlap": false, "title": "MAP (mmHg)", "titlePadding": 8}}}
        },
        {
          "data": {"values": [{}]},
          "mark": {"type": "point", "shape": "M0,0L-0.5,1.8L0.5,1.8Z", "filled": true, "size": 144, "color": "#4d4d4d", "opacity": 1, "strokeWidth": 0},
          "encoding": {
            "x": {"datum": -1, "axis": {"orient": "bottom", "domain": false, "ticks": false, "labels": false,
                                         "title": "t", "titleFontStyle": "italic", "titleAlign": "left", "titleAnchor": null,
                                         "titleX": 482, "titleY": -22, "titleBaseline": "alphabetic"}},
            "y": {"datum": 90, "axis": {"values": [50, 60, 70, 80], "labelPadding": 9, "labelFlush": false, "labelOverlap": false, "title": "MAP (mmHg)", "titlePadding": 8}}
          }
        }
      ]
    },
    {
      "width": 521,
      "height": 144,
      "title": {
        "text": "(b) Infusion rates.",
        "orient": "bottom",
        "anchor": "middle",
        "frame": "group",
        "dx": 0,
        "offset": 14,
        "font": "DejaVu Serif",
        "fontSize": 18.5,
        "fontWeight": "normal",
        "color": "#000"
      },
      "resolve": {"axis": {"x": "independent"}},
      "layer": [
        {
          "data": {"name": "inf"},
          "mark": {"type": "line", "strokeWidth": 3, "strokeJoin": "round", "strokeCap": "round"},
          "encoding": {
            "x": {"field": "t", "type": "quantitative",
                  "scale": {"domain": [-1, 5.5], "nice": false, "zero": false},
                  "axis": {"orient": "bottom", "values": [0, 1, 2, 3, 4, 5], "labelPadding": 15, "labelFlush": false, "labelOverlap": false,
                           "title": "(min)", "titleAlign": "left", "titleAnchor": null, "titleX": 498, "titleY": -21, "titleBaseline": "alphabetic"}},
            "y": {"field": "v", "type": "quantitative",
                  "scale": {"domain": [0, 29.5], "nice": false, "zero": false},
                  "axis": {"values": [0, 5, 10, 15, 20, 25], "labelPadding": 9, "labelFlush": false, "labelOverlap": false, "title": "Inf. (ml/h)", "titlePadding": 8}},
            "color": {"field": "s", "type": "nominal",
                      "scale": {"domain": ["s1", "s2", "s3"], "range": ["#808080", "#000000", "#b4b4b4"]},
                      "legend": null}
          }
        },
        {
          "data": {"values": [{}]},
          "mark": {"type": "point", "shape": "M0,0L-1.8,-0.5L-1.8,0.5Z", "filled": true, "size": 144, "color": "#4d4d4d", "opacity": 1, "strokeWidth": 0},
          "encoding": {"x": {"datum": 5.5, "axis": null}, "y": {"datum": 0, "axis": {"values": [0, 5, 10, 15, 20, 25], "labelPadding": 9, "labelFlush": false, "labelOverlap": false, "title": "Inf. (ml/h)", "titlePadding": 8}}}
        },
        {
          "data": {"values": [{}]},
          "mark": {"type": "point", "shape": "M0,0L-0.5,1.8L0.5,1.8Z", "filled": true, "size": 144, "color": "#4d4d4d", "opacity": 1, "strokeWidth": 0},
          "encoding": {
            "x": {"datum": -1, "axis": {"orient": "bottom", "domain": false, "ticks": false, "labels": false,
                                         "title": "t", "titleFontStyle": "italic", "titleAlign": "left", "titleAnchor": null,
                                         "titleX": 482, "titleY": -21, "titleBaseline": "alphabetic"}},
            "y": {"datum": 29.5, "axis": {"values": [0, 5, 10, 15, 20, 25], "labelPadding": 9, "labelFlush": false, "labelOverlap": false, "title": "Inf. (ml/h)", "titlePadding": 8}}
          }
        }
      ]
    }
  ]
}
